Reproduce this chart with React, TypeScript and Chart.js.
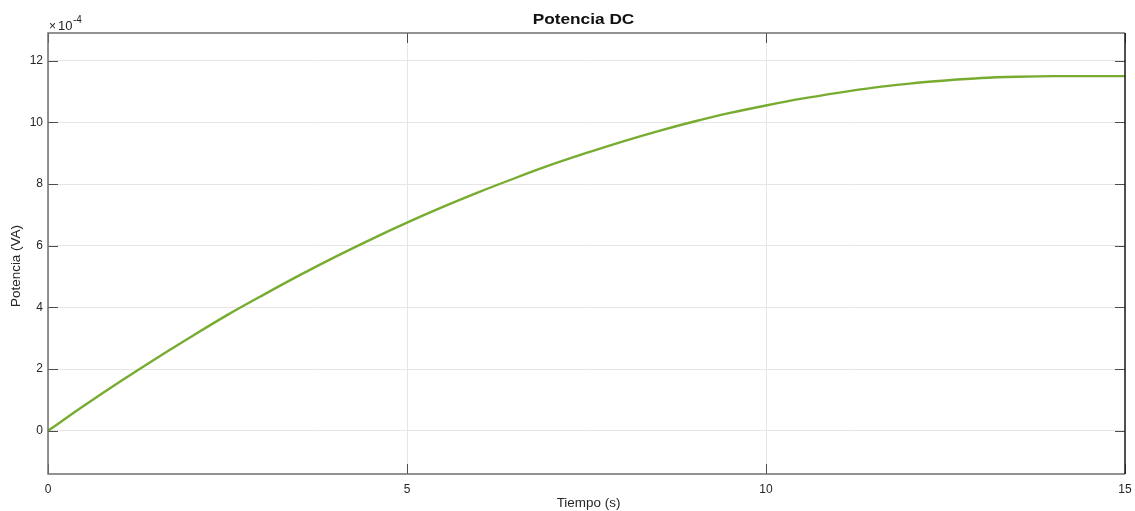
import React, { useEffect, useRef } from "react";
import { Chart, registerables } from "chart.js";

Chart.register(...registerables);

const titleText = "Potencia DC";
const xLabel = "Tiempo (s)";
const yLabel = "Potencia (VA)";
const exponentText = "-4";

const timeS = [0, 0.5, 1, 1.5, 2, 2.5, 3, 3.5, 4, 4.5, 5, 5.5, 6, 6.5, 7, 7.5, 8, 8.5, 9, 9.5, 10, 10.5, 11, 11.5, 12, 12.5, 13, 13.5, 14, 14.5, 15];
// power in units of 1e-4 VA
const powerE4 = [0, 0.81, 1.59, 2.34, 3.06, 3.76, 4.41, 5.04, 5.64, 6.21, 6.75, 7.26, 7.74, 8.19, 8.62, 9.01, 9.38, 9.72, 10.03, 10.31, 10.55, 10.77, 10.96, 11.13, 11.26, 11.36, 11.44, 11.48, 11.5, 11.5, 11.5];

const xTicks = [0, 5, 10, 15];
const yTicks = [0, 2, 4, 6, 8, 10, 12];

const FONT = "'Liberation Sans', Arial, sans-serif";

const decorPlugin = {
  id: "decor",
  afterDraw(chart: any) {
    const { ctx, chartArea: a, scales } = chart;
    const xs = scales.x;
    const ys = scales.y;
    ctx.save();
    // inward ticks
    ctx.lineWidth = 1;
    ctx.strokeStyle = "#4d4d4d";
    const tl = 10;
    yTicks.forEach((v) => {
      const y = Math.round(ys.getPixelForValue(v)) + 0.5;
      ctx.beginPath();
      ctx.moveTo(a.left, y);
      ctx.lineTo(a.left + tl, y);
      ctx.moveTo(a.right, y);
      ctx.lineTo(a.right - tl, y);
      ctx.stroke();
    });
    xTicks.forEach((v) => {
      const x = Math.round(xs.getPixelForValue(v)) + 0.5;
      ctx.beginPath();
      ctx.moveTo(x, a.bottom);
      ctx.lineTo(x, a.bottom - tl);
      ctx.moveTo(x, a.top);
      ctx.lineTo(x, a.top + tl);
      ctx.stroke();
    });
    // box
    ctx.strokeStyle = "#6f6f6f";
    ctx.lineWidth = 1.5;
    ctx.beginPath();
    ctx.moveTo(a.right, a.top);
    ctx.lineTo(a.left, a.top);
    ctx.lineTo(a.left, a.bottom);
    ctx.lineTo(a.right, a.bottom);
    ctx.stroke();
    ctx.strokeStyle = "#1a1a1a";
    ctx.beginPath();
    ctx.moveTo(a.right, a.top);
    ctx.lineTo(a.right, a.bottom);
    ctx.stroke();

    // title
    ctx.fillStyle = "#111";
    ctx.textAlign = "center";
    ctx.textBaseline = "middle";
    ctx.save();
    ctx.translate((a.left + a.right) / 2 - 3, 20);
    ctx.scale(1.15, 1);
    ctx.font = `bold 15px ${FONT}`;
    ctx.fillText(titleText, 0, 0);
    ctx.restore();

    // x label
    ctx.fillStyle = "#262626";
    ctx.save();
    ctx.translate((a.left + a.right) / 2 + 2, 503.5);
    ctx.scale(1.12, 1);
    ctx.font = `12px ${FONT}`;
    ctx.fillText(xLabel, 0, 0);
    ctx.restore();

    // y label
    ctx.save();
    ctx.translate(17, 266);
    ctx.rotate(-Math.PI / 2);
    ctx.scale(1.12, 1);
    ctx.font = `12px ${FONT}`;
    ctx.fillText(yLabel, 0, 0);
    ctx.restore();

    // exponent
    ctx.textAlign = "left";
    ctx.textBaseline = "alphabetic";
    ctx.fillStyle = "#262626";
    ctx.font = `12px ${FONT}`;
    ctx.fillText("\u00d7", a.left + 1, 29.5);
    ctx.font = `13px ${FONT}`;
    ctx.fillText("10", a.left + 10, 29.5);
    ctx.font = `10px ${FONT}`;
    ctx.fillText(exponentText, a.left + 25, 23);
    ctx.restore();
  },
};

export default function App() {
  const ref = useRef<HTMLCanvasElement | null>(null);
  useEffect(() => {
    document.body.style.margin = "0";
    if (!ref.current) return;
    const chart = new Chart(ref.current, {
      type: "line",
      data: {
        datasets: [
          {
            data: timeS.map((t, i) => ({ x: t, y: powerE4[i] })),
            borderColor: "#77ac30",
            borderWidth: 2.4,
            pointRadius: 0,
            cubicInterpolationMode: "monotone",
            fill: false,
          },
        ],
      },
      options: {
        animation: false,
        responsive: false,
        layout: { padding: { top: 33, right: 10, left: 0, bottom: 0 } },
        plugins: { legend: { display: false }, title: { display: false }, tooltip: { enabled: false } },
        scales: {
          x: {
            type: "linear",
            min: 0,
            max: 15,
            afterBuildTicks: (s: any) => {
              s.ticks = xTicks.map((v) => ({ value: v }));
            },
            afterFit: (s: any) => {
              s.height = 37;
              s.paddingLeft = 0;
              s.paddingRight = 0;
            },
            grid: { color: "#e6e6e6", drawTicks: false, lineWidth: 1 },
            border: { display: false },
            ticks: {
              padding: 8,
              color: "#262626",
              font: { family: FONT, size: 12 },
              maxRotation: 0,
            },
          },
          y: {
            type: "linear",
            min: -1.4,
            max: 12.9,
            afterBuildTicks: (s: any) => {
              s.ticks = yTicks.map((v) => ({ value: v }));
            },
            afterFit: (s: any) => {
              s.width = 48;
              s.paddingTop = 0;
              s.paddingBottom = 0;
            },
            grid: { color: "#e6e6e6", drawTicks: false, lineWidth: 1 },
            border: { display: false },
            ticks: {
              padding: 5,
              color: "#262626",
              font: { family: FONT, size: 12 },
            },
          },
        },
      },
      plugins: [decorPlugin],
    } as any);
    return () => chart.destroy();
  }, []);
  return <canvas ref={ref} width={1135} height={511} style={{ display: "block" }} />;
}
